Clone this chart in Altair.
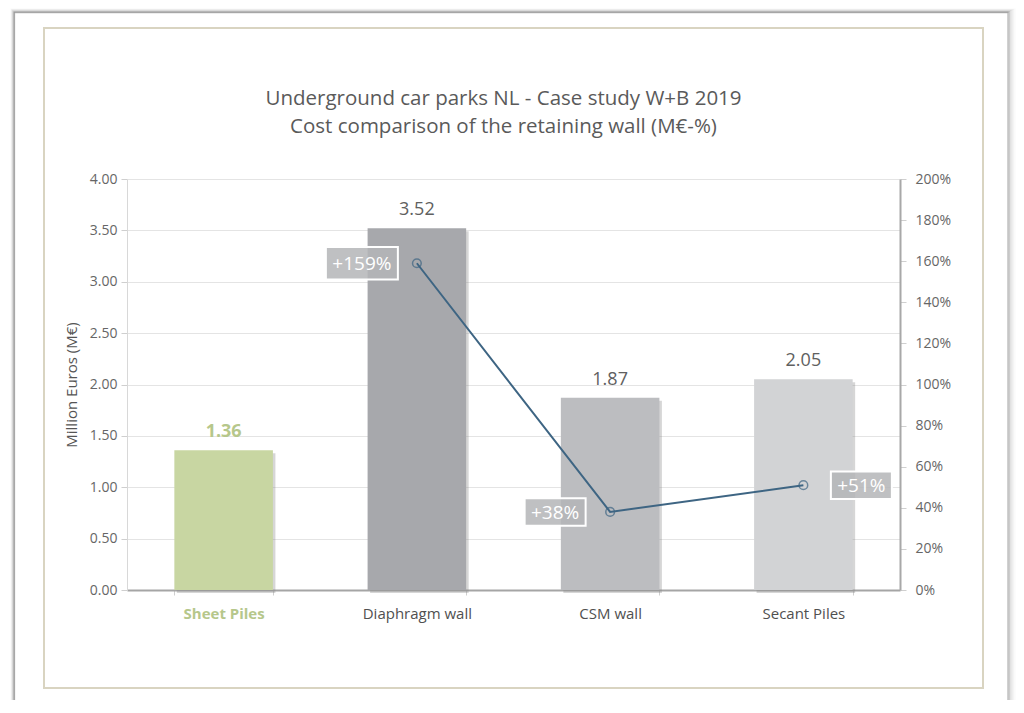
import altair as alt
import pandas as pd

# ---------------- data ----------------
categories = ["Sheet Piles", "Diaphragm wall", "CSM wall", "Secant Piles"]
costs = [1.36, 3.52, 1.87, 2.05]                # million euros
increase_pct = [None, 159, 38, 51]              # % vs sheet piles
cost_ticks = [0, 0.5, 1.0, 1.5, 2.0, 2.5, 3.0, 3.5, 4.0]
pct_ticks = [0, 0.2, 0.4, 0.6, 0.8, 1.0, 1.2, 1.4, 1.6, 1.8, 2.0]
title_lines = ["Underground car parks NL - Case study W+B 2019",
               "Cost comparison of the retaining wall (M€-%)"]
y_title = "Million Euros (M€)"

# ---------------- styles ----------------
palette = ["#c8d6a2", "#a7a8ac", "#bcbdc0", "#d2d3d5"]
GREEN_TXT = "#b6c78b"
GRAY_TXT = "#606060"
LINE_COL = "#3e6583"
FONT = "Open Sans"

bars_df = pd.DataFrame({"cat": categories, "cost": costs})
line_df = pd.DataFrame({"cat": categories, "pct": increase_pct}).dropna()
one = pd.DataFrame({"k": [0]})

x_enc = alt.X(
    "cat:N", sort=categories, title=None,
    scale=alt.Scale(paddingInner=0.49, paddingOuter=0.245),
    axis=alt.Axis(
        labelAngle=0, labelFontSize=15, labelPadding=11, labelFont=FONT,
        labelColor={"condition": {"test": f"datum.value == '{categories[0]}'", "value": GREEN_TXT},
                    "value": "#505050"},
        labelFontWeight={"condition": {"test": f"datum.value == '{categories[0]}'", "value": "bold"},
                         "value": "normal"},
        domainColor="#a5a5a5", domainWidth=2, tickColor="#cfcfcf", tickSize=5,
        tickBand="extent", grid=False,
    ),
)

y_left = alt.Y(
    "cost:Q", scale=alt.Scale(domain=[0, 4]),
    axis=alt.Axis(values=cost_ticks, format=".2f", title=y_title, titleFontSize=15,
                  titleFontWeight="normal", titleColor="#555555", titlePadding=10,
                  labelFontSize=14, labelColor="#666666", labelPadding=4,
                  grid=True, gridColor="#e4e4e4", domainColor="#d8d8d8",
                  tickColor="#cfcfcf", tickSize=6, orient="left"),
)

# ---------------- decorative frame ----------------
frame_layers = []
# soft card shadow (stroke-only rings outside the card)
card = (-112, 880, -166, 523)
for i, op in enumerate([0.28, 0.2, 0.13, 0.08, 0.045, 0.02]):
    e1 = 0.5 + i * 0.7
    e2 = 1.0 + i * 1.4
    frame_layers.append(
        alt.Chart(one).mark_rect(fill=None, stroke="#000000", strokeOpacity=op, strokeWidth=1.3)
        .encode(x=alt.value(card[0] - e1), x2=alt.value(card[1] + e2),
                y=alt.value(card[2] - e1), y2=alt.value(card[3] + e2))
    )
frame_layers.append(
    alt.Chart(one).mark_rect(fill=None, stroke="#d9d4c1", strokeWidth=2)
    .encode(x=alt.value(-83), x2=alt.value(856), y=alt.value(-151), y2=alt.value(509))
)

# ---------------- bars ----------------
bar_shadow = alt.Chart(bars_df).mark_bar(color="#8a8a8a", opacity=0.35, xOffset=2.5, yOffset=3).encode(
    x=x_enc, y=y_left)
bars = alt.Chart(bars_df).mark_bar().encode(
    x=x_enc, y=y_left,
    color=alt.Color("cat:N", scale=alt.Scale(domain=categories, range=palette), legend=None),
)
val_green = alt.Chart(bars_df).transform_filter(alt.datum.cat == categories[0]).mark_text(
    baseline="bottom", dy=-9, fontSize=18, font=FONT, fontWeight="bold", color=GREEN_TXT
).encode(x=x_enc, y=y_left, text=alt.Text("cost:Q", format=".2f"))
val_gray = alt.Chart(bars_df).transform_filter(alt.datum.cat != categories[0]).mark_text(
    baseline="bottom", dy=-9, fontSize=18, font=FONT, color=GRAY_TXT
).encode(x=x_enc, y=y_left, text=alt.Text("cost:Q", format=".2f"))

left_group = alt.layer(*frame_layers, bar_shadow, bars, val_green, val_gray)

# ---------------- percentage line ----------------
y_right = alt.Y(
    "frac:Q", scale=alt.Scale(domain=[0, 2]),
    axis=alt.Axis(values=pct_ticks, format=".0%", title=None, orient="right",
                  labelFontSize=14, labelColor="#666666", labelPadding=9,
                  grid=False, domainColor="#a8a8a8", domainWidth=2,
                  tickColor="#cfcfcf", tickSize=6),
)

base_line = alt.Chart(line_df).transform_calculate(
    frac="datum.pct / 100",
    label="'+' + datum.pct + '%'",
    bw="length(datum.label) * 11 + 17",
    bsize="datum.bw * datum.bw",
    side=f"datum.cat == '{categories[-1]}' ? 1 : -1",
)

line = base_line.mark_line(color=LINE_COL, strokeWidth=2).encode(x=x_enc, y=y_right)
pts = base_line.mark_point(shape="circle", filled=False, color=LINE_COL, size=75,
                           strokeWidth=1.5).encode(x=x_enc, y=y_right)

BOX = "M-1,-0.45L1,-0.45L1,0.45L-1,0.45Z"


def label_layers(side, off):
    b = base_line.transform_filter(f"datum.side == {side}")
    box = b.mark_point(shape=BOX, filled=True, fill="#b4b5b7", fillOpacity=0.85,
                       stroke="white", strokeWidth=2, strokeOpacity=1, xOffset=off).encode(
        x=x_enc, y=y_right, size=alt.Size("bsize:Q", scale=None, legend=None))
    txt = b.mark_text(color="white", fontSize=19, font=FONT, xOffset=off, dy=1).encode(
        x=x_enc, y=y_right, text="label:N")
    return [box, txt]


right_group = alt.layer(line, pts, *label_layers(-1, -55), *label_layers(1, 58))

chart = alt.layer(left_group, right_group).resolve_scale(y="independent").properties(
    width=773, height=411,
    autosize=alt.AutoSizeParams(type="none"),
    padding={"left": 119, "top": 171, "right": 116, "bottom": 110},
    background="white",
    title=alt.TitleParams(text=title_lines, fontSize=20.5, font=FONT, fontWeight="normal",
                          color="#5a5a5a", anchor="middle", dx=-10, offset=-129, lineHeight=28),
).configure_view(stroke=None).configure_axis(labelFont=FONT, titleFont=FONT)

chart.save("out.html", embed_options={"renderer": "svg", "actions": False})
